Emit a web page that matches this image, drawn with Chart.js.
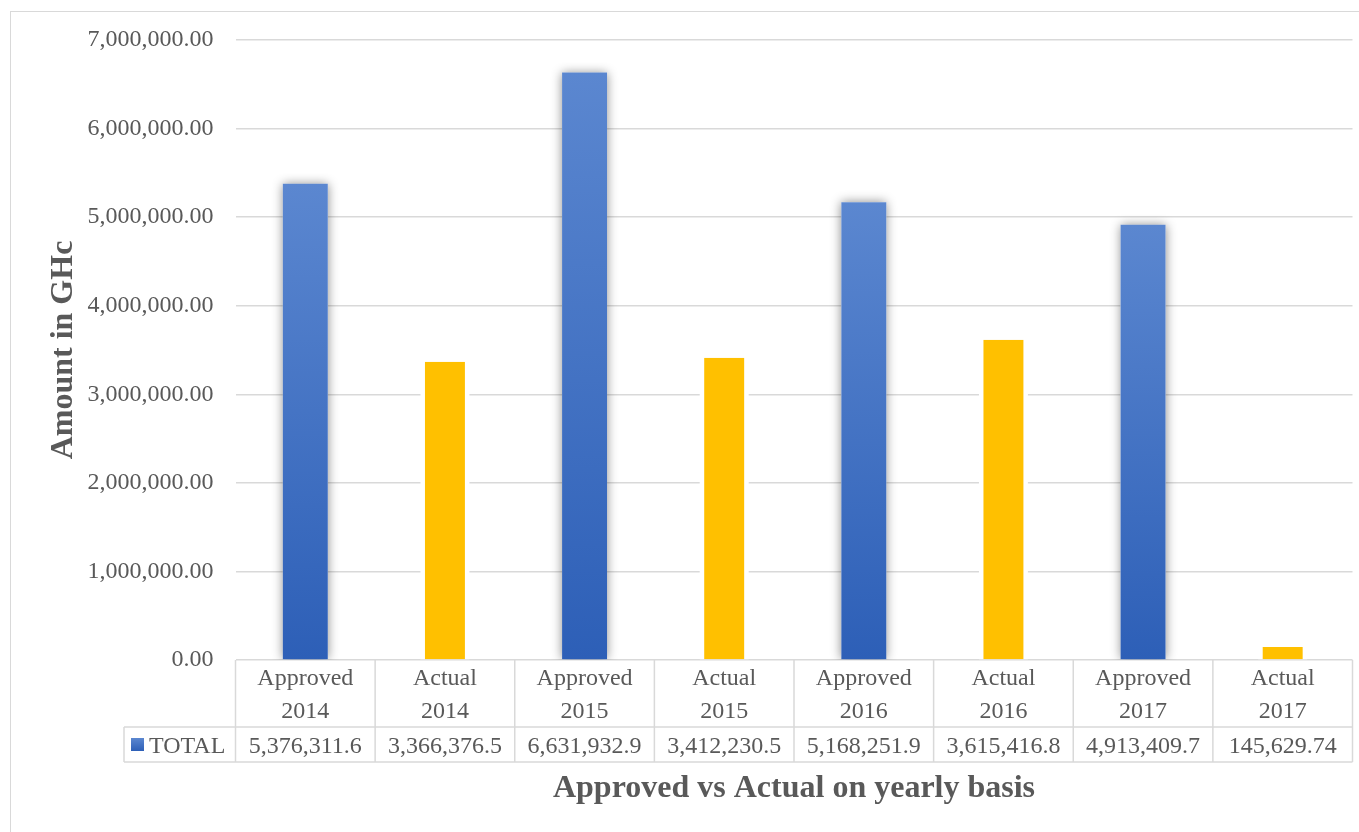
<!DOCTYPE html>
<html>
<head>
<meta charset="utf-8">
<script src="https://cdn.jsdelivr.net/npm/chart.js@4.4.1/dist/chart.umd.min.js"></script>
<style>
  html, body { margin: 0; padding: 0; background: #fff; }
  #wrap { position: relative; width: 1359px; height: 832px; overflow: hidden; }
  #frame { position: absolute; left: 10px; top: 11px; width: 1400px; height: 900px;
           border: 1.5px solid #d9d9d9; box-sizing: border-box; }
  #chart { position: absolute; left: 0; top: 0; }
</style>
</head>
<body>
<div id="wrap">
  <div id="frame"></div>
  <canvas id="chart"></canvas>
</div>
<script>
const categories = [
  ['Approved', '2014'], ['Actual', '2014'],
  ['Approved', '2015'], ['Actual', '2015'],
  ['Approved', '2016'], ['Actual', '2016'],
  ['Approved', '2017'], ['Actual', '2017']
];
const seriesName = 'TOTAL';
const totals = [5376311.6, 3366376.5, 6631932.9, 3412230.5, 5168251.9, 3615416.8, 4913409.7, 145629.74];
const yTicks = [0, 1000000, 2000000, 3000000, 4000000, 5000000, 6000000, 7000000];

const FONT = "'Liberation Serif', 'Times New Roman', serif";
const TEXT = '#595959';
const LINE = '#d9d9d9';
const BLUE_TOP = '#5b87d0';
const BLUE_BOTTOM = '#2d5fb7';
const YELLOW = '#ffc000';

const isApproved = i => categories[i][0] === 'Approved';
const fmtTotal = v => v.toLocaleString('en-US', { maximumFractionDigits: 2 });
const fmtTick = v => v.toLocaleString('en-US', { minimumFractionDigits: 2, maximumFractionDigits: 2 });

function blueGradient(ctx, top, bottom) {
  const g = ctx.createLinearGradient(0, top, 0, bottom);
  g.addColorStop(0, BLUE_TOP);
  g.addColorStop(1, BLUE_BOTTOM);
  return g;
}

// soft shadow behind the approved bars, white halo behind the actual ones
const barShadow = {
  id: 'barShadow',
  beforeDatasetsDraw(chart) {
    const { ctx, chartArea: a } = chart;
    const meta = chart.getDatasetMeta(0);
    ctx.save();
    ctx.beginPath();
    ctx.rect(a.left, a.top - 20, a.width, a.height + 20);
    ctx.clip();
    meta.data.forEach((bar, i) => {
      const w = bar.width, h = bar.base - bar.y;
      ctx.save();
      ctx.fillStyle = '#fff';
      if (isApproved(i)) {
        ctx.shadowColor = 'rgba(0,0,0,0.45)';
        ctx.shadowBlur = 10;
        ctx.fillRect(bar.x - w / 2, bar.y, w, h);
      } else {
        ctx.fillRect(bar.x - w / 2 - 2, bar.y - 2, w + 4, h + 2);
      }
      ctx.restore();
    });
    ctx.restore();
  }
};

// data table under the plot: category headers, legend key and the values
const dataTable = {
  id: 'dataTable',
  afterDraw(chart) {
    const { ctx, chartArea: a, scales: { x } } = chart;
    const step = x.getPixelForValue(1) - x.getPixelForValue(0);
    const headTop = a.bottom;
    const headBottom = headTop + 67;
    const rowBottom = headBottom + 35;
    const keyLeft = a.left - 111.5;

    ctx.save();
    ctx.strokeStyle = LINE;
    ctx.lineWidth = 1.5;
    ctx.beginPath();
    for (let i = 0; i <= categories.length; i++) {
      const ex = x.getPixelForValue(0) - step / 2 + i * step;
      ctx.moveTo(ex, headTop);
      ctx.lineTo(ex, rowBottom);
    }
    ctx.moveTo(keyLeft, headBottom); ctx.lineTo(a.right, headBottom);
    ctx.moveTo(keyLeft, rowBottom); ctx.lineTo(a.right, rowBottom);
    ctx.moveTo(keyLeft, headBottom); ctx.lineTo(keyLeft, rowBottom);
    ctx.stroke();

    ctx.font = `24px ${FONT}`;
    ctx.fillStyle = TEXT;
    ctx.textAlign = 'center';
    ctx.textBaseline = 'middle';
    categories.forEach((lines, i) => {
      const cx = x.getPixelForValue(i);
      lines.forEach((t, j) => ctx.fillText(t, cx, headTop + 19 + j * 33));
      ctx.fillText(fmtTotal(totals[i]), cx, headBottom + 20);
    });

    // legend key
    const kx = keyLeft + 7, ky = headBottom + 11;
    ctx.fillStyle = blueGradient(ctx, ky, ky + 13);
    ctx.fillRect(kx, ky, 13, 13);
    ctx.fillStyle = TEXT;
    ctx.textAlign = 'left';
    ctx.fillText(seriesName, kx + 18, headBottom + 20);
    ctx.restore();
  }
};

const ctx = document.getElementById('chart').getContext('2d');
ctx.canvas.parentNode.style.width = '1359px';
ctx.canvas.parentNode.style.height = '832px';

new Chart(ctx, {
  type: 'bar',
  data: {
    labels: categories,
    datasets: [{
      label: seriesName,
      data: totals,
      backgroundColor: c => {
        if (!isApproved(c.dataIndex)) return YELLOW;
        const y = c.chart.scales.y;
        if (!y) return BLUE_BOTTOM;
        const top = y.getPixelForValue(c.raw), base = y.getPixelForValue(0);
        if (!isFinite(top) || !isFinite(base)) return BLUE_BOTTOM;
        return blueGradient(c.chart.ctx, top, base);
      },
      borderColor: '#fff',
      borderWidth: c => isApproved(c.dataIndex) ? 0 : { left: 2.5, right: 2.5, top: 0, bottom: 0 },
      barPercentage: 0.322,
      categoryPercentage: 1
    }]
  },
  options: {
    responsive: true,
    maintainAspectRatio: false,
    animation: false,
    layout: { padding: { left: 0, top: 40, right: 6.5, bottom: 0 } },
    plugins: {
      legend: { display: false },
      tooltip: { enabled: false }
    },
    scales: {
      x: {
        grid: { display: false, drawTicks: false },
        border: { display: false },
        ticks: { display: false },
        title: {
          display: true,
          text: 'Approved vs Actual on yearly basis',
          color: TEXT,
          font: { family: FONT, size: 32, weight: 'bold' },
          padding: { top: 0, bottom: 24 }
        },
        afterFit: s => { s.height = 172; }
      },
      y: {
        min: 0,
        max: 7000000,
        afterBuildTicks: s => { s.ticks = yTicks.map(v => ({ value: v })); },
        afterFit: s => { s.width = 235.5; },
        grid: { color: LINE, lineWidth: 1.5, drawTicks: false },
        border: { display: false },
        ticks: {
          color: TEXT,
          padding: 22,
          font: { family: FONT, size: 24 },
          callback: v => fmtTick(v)
        },
        title: {
          display: true,
          text: 'Amount in GHc',
          color: TEXT,
          font: { family: FONT, size: 32, weight: 'bold' },
          padding: { top: 45, bottom: 0 }
        }
      }
    }
  },
  plugins: [barShadow, dataTable]
});
</script>
</body>
</html>
